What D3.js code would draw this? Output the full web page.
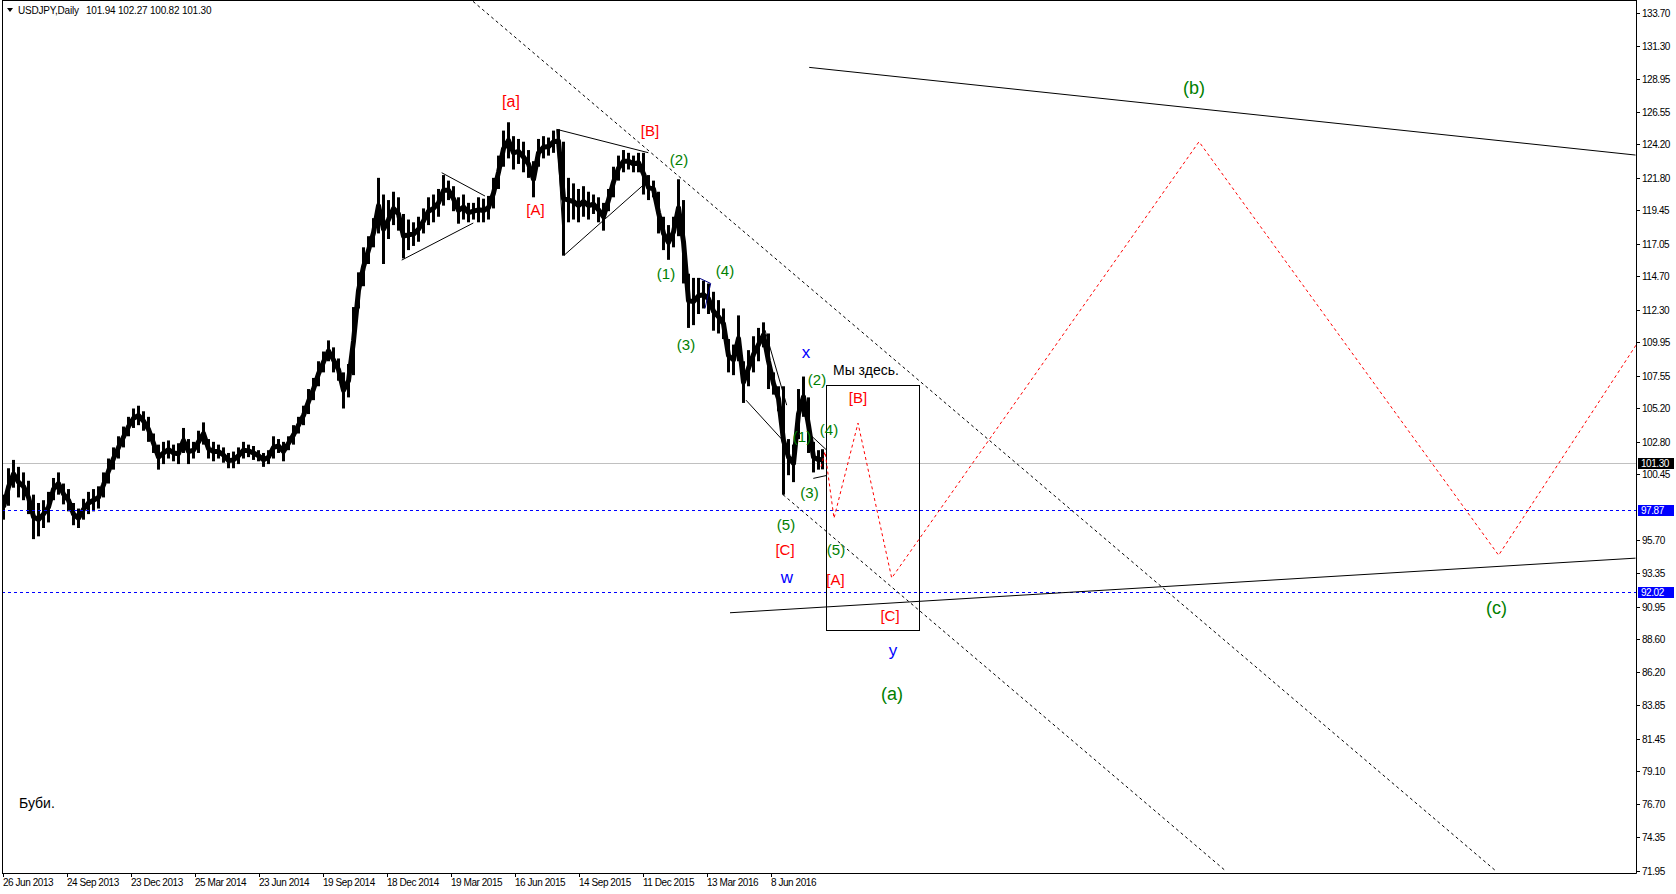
<!DOCTYPE html>
<html><head><meta charset="utf-8">
<script src="https://cdn.jsdelivr.net/npm/d3@7"></script>
<style>html,body{margin:0;padding:0;background:#fff;overflow:hidden}</style>
</head><body>
<svg id="chart" width="1676" height="894"></svg>
<script>
// ---------- DATA (weekly ranges of the daily USDJPY bars, 5 bars per group) ----------
const groupLow = [97.2,98.2,99.5,98.8,98.6,97.6,95.8,96.0,96.6,97.0,98.6,99.0,98.3,97.8,96.8,96.6,97.2,97.6,97.8,98.0,
98.8,99.8,100.8,101.6,102.4,103.2,103.8,104.0,103.6,102.8,102.0,100.8,101.2,101.6,101.4,101.2,102.0,101.2,101.6,102.0,
102.6,101.6,101.4,101.6,101.3,100.9,100.9,101.2,101.6,101.7,101.5,101.4,101.0,101.2,101.6,102.0,101.4,102.2,102.6,103.4,
104.0,104.8,105.8,106.8,107.8,108.6,107.8,107.2,105.2,106.0,107.6,112.4,114.0,115.6,116.8,117.8,115.6,117.4,118.4,118.0,
116.0,116.6,116.9,117.2,117.8,118.4,118.6,119.0,119.8,120.2,119.4,118.5,118.8,118.6,118.8,118.6,118.6,118.8,119.6,121.0,
122.6,123.2,122.4,122.8,122.2,121.8,120.4,122.6,123.2,123.4,123.6,123.6,116.2,118.6,118.8,118.6,119.0,118.8,119.2,118.6,
118.0,119.4,120.4,121.6,122.2,122.4,122.2,122.2,120.6,120.2,120.4,117.8,116.6,115.9,116.8,117.6,114.2,111.0,111.2,112.0,
112.4,112.0,110.8,110.6,110.2,107.8,107.6,108.6,105.6,106.8,107.8,108.6,109.6,106.6,106.2,105.0,99.0,100.4,99.9,103.0,
104.6,102.0,100.6,100.8,100.82];
const groupHigh = [99.0,100.9,101.5,101.0,100.6,100.0,99.0,98.4,98.6,99.2,100.2,100.6,99.8,99.4,98.4,98.0,98.7,99.2,99.4,99.6,
100.6,101.6,102.4,103.2,103.9,104.6,105.2,105.4,105.0,104.6,103.4,102.6,102.8,102.9,102.6,102.7,103.8,103.0,102.8,103.6,
104.2,103.0,102.8,102.6,102.4,102.0,102.1,102.4,102.8,102.6,102.5,102.2,102.0,102.2,103.2,103.0,102.8,103.2,104.0,104.6,
105.4,106.6,107.4,108.6,109.3,110.1,109.6,108.8,107.8,108.4,112.5,115.0,116.8,117.6,118.9,121.8,120.6,120.2,120.8,120.4,
119.2,118.8,118.6,119.0,119.6,120.4,120.6,121.0,122.0,121.6,121.2,120.4,120.6,120.0,120.0,120.4,120.3,120.5,121.8,123.4,
125.2,125.8,124.8,124.6,124.4,123.8,123.0,124.6,124.8,124.7,125.2,125.3,124.4,121.8,121.4,121.0,121.2,120.8,120.6,120.4,
120.0,121.0,122.6,123.4,123.8,123.6,123.4,123.6,123.6,122.0,121.6,120.8,119.0,118.4,119.0,121.7,120.2,114.9,114.6,114.6,
114.4,114.2,113.6,113.0,112.4,110.2,109.8,111.9,108.6,109.4,110.4,111.0,111.4,110.6,107.8,106.8,106.8,103.0,102.6,106.6,
107.5,106.0,102.8,102.2,102.27];
const barsPerGroup = 5;
const lastBarIndex = 820;
const header = {symbol: "USDJPY,Daily", open: "101.94", high: "102.27", low: "100.82", close: "101.30"};

const priceTicks = [133.70,131.30,128.95,126.55,124.20,121.80,119.45,117.05,114.70,112.30,109.95,107.55,105.20,102.80,
100.45,95.70,93.35,90.95,88.60,86.20,83.85,81.45,79.10,76.70,74.35,71.95];
const priceMarkers = [{v:101.30, bg:"#000000"}, {v:97.87, bg:"#0000ff"}, {v:92.02, bg:"#0000ff"}];
const dateTickIndex = [0,64,128,192,256,320,384,448,512,576,640,704,768];
const dateLabels = ["26 Jun 2013","24 Sep 2013","23 Dec 2013","25 Mar 2014","23 Jun 2014","19 Sep 2014","18 Dec 2014",
"19 Mar 2015","16 Jun 2015","14 Sep 2015","11 Dec 2015","13 Mar 2016","8 Jun 2016"];

// chart objects in (bar index, price)
const hLines = [{v:101.30, color:"#c0c0c0", dash:null}, {v:97.87, color:"#0000ff", dash:"3,3"}, {v:92.02, color:"#0000ff", dash:"3,3"}];
const trendLines = [
  {a:[470,134.5], b:[1493.5,71.88], color:"#000", dash:"3,3"},
  {a:[780,99.0], b:[1223,71.9], color:"#000", dash:"3,3"},
  {a:[806.2,129.75], b:[1632.5,123.44], color:"#000", dash:null},
  {a:[727,90.5], b:[1632.5,94.43], color:"#000", dash:null},
  {a:[398.7,115.88], b:[470.3,118.55], color:"#000", dash:null},
  {a:[438.7,122.17], b:[482,120.49], color:"#000", dash:null},
  {a:[553.7,125.29], b:[645.3,123.61], color:"#000", dash:null},
  {a:[561.3,116.24], b:[640.3,121.28], color:"#000", dash:null},
  {a:[553.7,125.29], b:[561.3,116.24], color:"#000", dash:null},
  {a:[697,114.56], b:[707.7,114.2], color:"#000080", dash:null},
  {a:[707.7,114.2], b:[702,112.4], color:"#000080", dash:null},
  {a:[743,105.8], b:[780.3,102.87], color:"#000", dash:null},
  {a:[780.3,102.87], b:[780.3,98.96], color:"#000", dash:null},
  {a:[762,110.84], b:[783.7,105.44], color:"#000", dash:null},
  {a:[808.7,103.21], b:[823,102.25], color:"#000", dash:null},
  {a:[810.3,100.17], b:[823,100.37], color:"#000", dash:null}
];
const boxRect = {a:[823,106.9], b:[916,89.27]};
const zigzag = [[818,101.0],[822,102.1],[831,97.3],[855,104.15],[888.7,93.0],[1196,124.4],[1495.6,94.64],[1633,109.76]];
const waveLabels = [
  {t:"[a]", i:508, p:127.29, c:"#ff0000", s:16},
  {t:"[B]", i:647, p:125.17, c:"#ff0000", s:15},
  {t:"[A]", i:532.5, p:119.48, c:"#ff0000", s:15},
  {t:"(2)", i:676, p:123.08, c:"#008000", s:15},
  {t:"(1)", i:663, p:114.87, c:"#008000", s:15},
  {t:"(3)", i:683, p:109.76, c:"#008000", s:15},
  {t:"(4)", i:722, p:115.09, c:"#008000", s:15},
  {t:"x", i:803, p:109.26, c:"#0000ff", s:17},
  {t:"(2)", i:814, p:107.24, c:"#008000", s:15},
  {t:"[B]", i:855, p:105.95, c:"#ff0000", s:15},
  {t:"(4)", i:826, p:103.64, c:"#008000", s:15},
  {t:"(1)", i:799, p:103.14, c:"#008000", s:15},
  {t:"(3)", i:806.5, p:99.14, c:"#008000", s:15},
  {t:"(5)", i:783, p:96.84, c:"#008000", s:15},
  {t:"[C]", i:782, p:95.04, c:"#ff0000", s:15},
  {t:"w", i:784, p:93.1, c:"#0000ff", s:17},
  {t:"(5)", i:833, p:95.0, c:"#008000", s:15},
  {t:"[A]", i:832.5, p:92.88, c:"#ff0000", s:15},
  {t:"[C]", i:887, p:90.25, c:"#ff0000", s:15},
  {t:"y", i:890, p:87.85, c:"#0000ff", s:17},
  {t:"(a)", i:889, p:84.64, c:"#008000", s:18},
  {t:"(b)", i:1191, p:128.29, c:"#008000", s:18},
  {t:"(c)", i:1493.5, p:90.83, c:"#008000", s:18}
];
const notes = [
  {t:"Мы здесь.", i:830, p:107.96, s:14},
  {t:"Буби.", i:16, p:76.79, s:14}
];

// ---------- DRAW ----------
const svg = d3.select("#chart");
const font = "'Liberation Sans', Arial, sans-serif";
const plot = {left:2, right:1636, top:0, bottom:873};
const x = d3.scaleLinear().domain([0, 1633]).range([3, 1636]);
const y = d3.scaleLinear().domain([71.95, 133.70]).range([870.5, 12.5]);

svg.append("defs").append("clipPath").attr("id","clip")
  .append("rect").attr("x",plot.left).attr("y",plot.top).attr("width",plot.right-plot.left).attr("height",plot.bottom-plot.top);
const g = svg.append("g").attr("clip-path","url(#clip)");

// bid line (behind bars)
g.append("line").attr("x1",plot.left).attr("x2",plot.right).attr("y1",Math.round(y(101.30))+0.5).attr("y2",Math.round(y(101.30))+0.5)
  .attr("stroke","#c0c0c0").attr("stroke-width",1);

// price bars: each 5-bar group drawn as its high-low range (wick) plus a body line through the group centres
const groups = groupLow.map((lo,k)=>({lo, hi:groupHigh[k], s:k*barsPerGroup-2, e:Math.min(k*barsPerGroup+3, lastBarIndex+1)}));
const bars = g.append("g");
bars.selectAll("rect").data(groups).join("rect")
  .attr("x",d=>x((d.s+d.e)/2)-1.5).attr("width",3)
  .attr("y",d=>y(d.hi)).attr("height",d=>y(d.lo)-y(d.hi))
  .attr("fill","#000");
bars.append("path")
  .attr("d",d3.line().x(d=>x((d.s+d.e)/2)).y(d=>y((d.lo+d.hi)/2))(groups))
  .attr("fill","none").attr("stroke","#000").attr("stroke-width",5).attr("stroke-linejoin","round");

// horizontal dashed lines
hLines.filter(h=>h.dash).forEach(h=>{
  const yy = Math.round(y(h.v))+0.5;
  g.append("line").attr("x1",plot.left).attr("x2",plot.right).attr("y1",yy).attr("y2",yy)
    .attr("stroke",h.color).attr("stroke-width",1).attr("stroke-dasharray",h.dash);
});

// trend lines
g.append("g").selectAll("line").data(trendLines).join("line")
  .attr("x1",d=>x(d.a[0])).attr("y1",d=>y(d.a[1])).attr("x2",d=>x(d.b[0])).attr("y2",d=>y(d.b[1]))
  .attr("stroke",d=>d.color).attr("stroke-width",1).attr("stroke-dasharray",d=>d.dash);

// rectangle
g.append("rect").attr("x",Math.round(x(boxRect.a[0]))+0.5).attr("y",Math.round(y(boxRect.a[1]))+0.5)
  .attr("width",Math.round(x(boxRect.b[0])-x(boxRect.a[0]))).attr("height",Math.round(y(boxRect.b[1])-y(boxRect.a[1])))
  .attr("fill","none").attr("stroke","#000").attr("stroke-width",1);

// red projection zigzag
g.append("path").attr("d",d3.line().x(d=>x(d[0])).y(d=>y(d[1]))(zigzag))
  .attr("fill","none").attr("stroke","#ff0000").attr("stroke-width",1).attr("stroke-dasharray","3,3");

// labels
g.append("g").selectAll("text").data(waveLabels).join("text")
  .attr("x",d=>x(d.i)).attr("y",d=>y(d.p)).attr("dy","0.35em").attr("text-anchor","middle")
  .attr("font-family",font).attr("font-size",d=>d.s).attr("fill",d=>d.c).text(d=>d.t);
g.append("g").selectAll("text").data(notes).join("text")
  .attr("x",d=>x(d.i)).attr("y",d=>y(d.p)).attr("dy","0.35em").attr("text-anchor","start")
  .attr("font-family",font).attr("font-size",d=>d.s).attr("fill","#000").text(d=>d.t);

// frame
svg.append("line").attr("x1",2.5).attr("x2",2.5).attr("y1",0).attr("y2",873.5).attr("stroke","#000");
svg.append("line").attr("x1",2).attr("x2",1636.5).attr("y1",873.5).attr("y2",873.5).attr("stroke","#000");
svg.append("line").attr("x1",1636.5).attr("x2",1636.5).attr("y1",0).attr("y2",873.5).attr("stroke","#000");
svg.append("line").attr("x1",2).attr("x2",1636.5).attr("y1",0.5).attr("y2",0.5).attr("stroke","#000");

// price axis
const pa = svg.append("g");
priceTicks.forEach(v=>{
  const yy = Math.round(y(v))+0.5;
  pa.append("line").attr("x1",1636).attr("x2",1640).attr("y1",yy).attr("y2",yy).attr("stroke","#000");
  pa.append("text").attr("x",1642).attr("y",yy).attr("dy","0.35em").attr("font-family",font).attr("font-size",10)
    .attr("letter-spacing","-0.45px").attr("fill","#000").text(d3.format(".2f")(v));
});
priceMarkers.forEach(m=>{
  const yy = Math.round(y(m.v));
  pa.append("rect").attr("x",1638).attr("y",yy-5).attr("width",36).attr("height",11).attr("fill",m.bg);
  pa.append("text").attr("x",1641).attr("y",yy+0.5).attr("dy","0.35em").attr("font-family",font).attr("font-size",10)
    .attr("letter-spacing","-0.45px").attr("fill","#fff").text(d3.format(".2f")(m.v));
});

// time axis
const ta = svg.append("g");
dateTickIndex.forEach((idx,k)=>{
  const xx = Math.round(x(idx))+0.5;
  ta.append("line").attr("x1",xx).attr("x2",xx).attr("y1",873).attr("y2",877).attr("stroke","#000");
  ta.append("text").attr("x",xx-0.5).attr("y",885.5).attr("font-family",font).attr("font-size",10)
    .attr("letter-spacing","-0.45px").attr("fill","#000").text(dateLabels[k]);
});

// header
svg.append("path").attr("d","M7,8 L13,8 L10,12 Z").attr("fill","#000");
svg.append("text").attr("x",18).attr("y",13.5).attr("font-family",font).attr("font-size",10).attr("letter-spacing","-0.2px")
  .attr("fill","#000").text(header.symbol);
svg.append("text").attr("x",86).attr("y",13.5).attr("font-family",font).attr("font-size",10).attr("letter-spacing","-0.2px")
  .attr("fill","#000").text([header.open,header.high,header.low,header.close].join(" "));
</script>
</body></html>
